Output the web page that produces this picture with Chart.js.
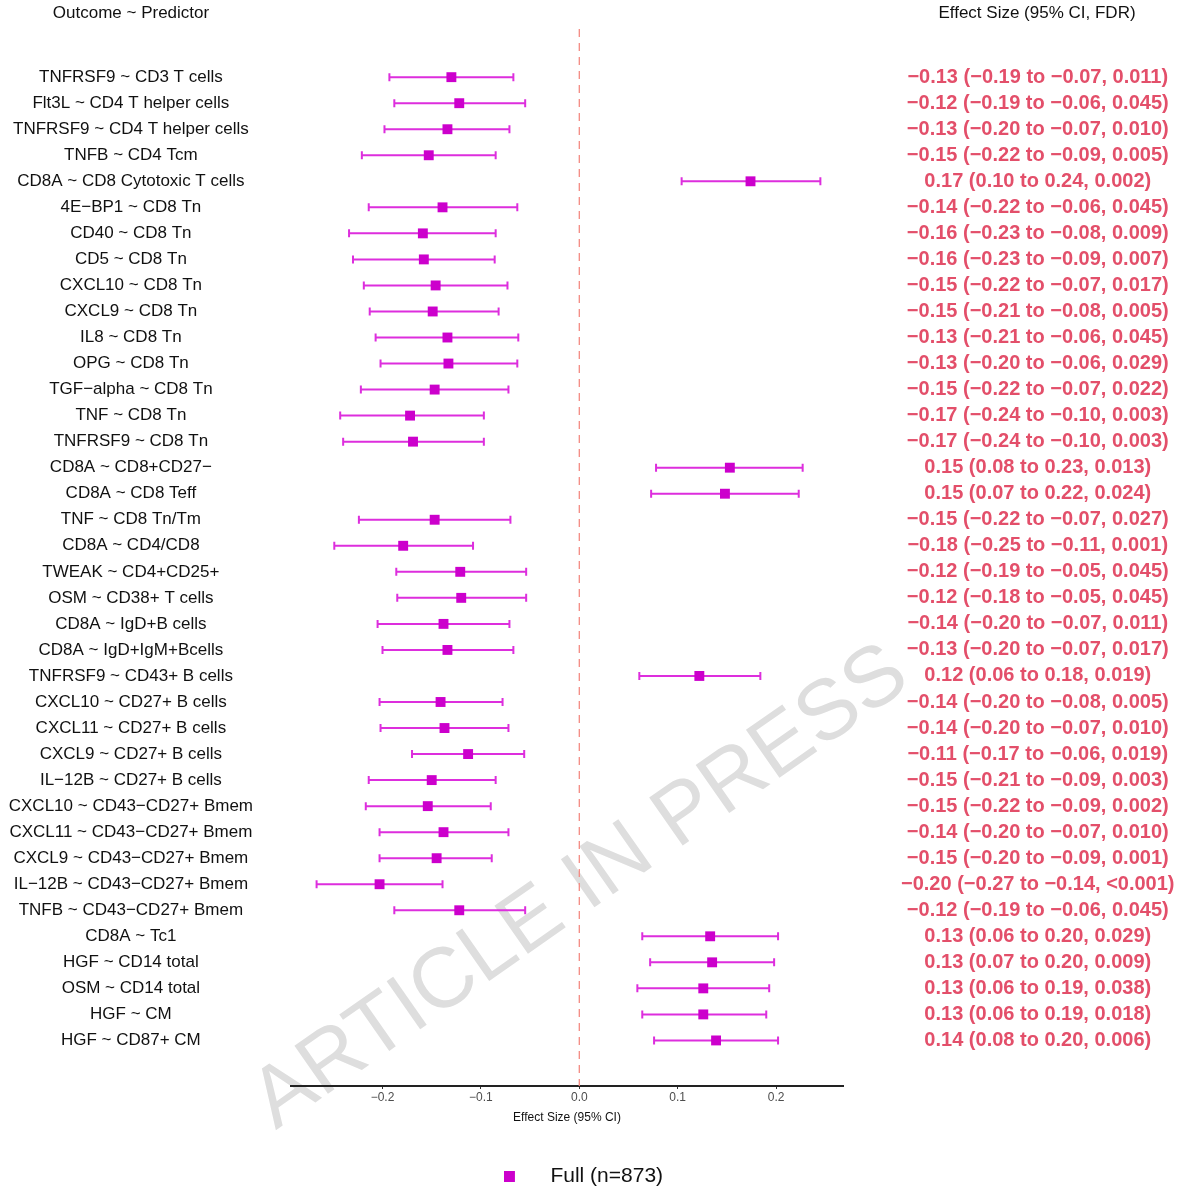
<!DOCTYPE html>
<html>
<head>
<meta charset="utf-8">
<script src="https://cdn.jsdelivr.net/npm/chart.js@4.4.1/dist/chart.umd.min.js"></script>
<style>
  body { margin: 0; background: #fff; }
  #wrap { width: 1179px; height: 1187px; }
</style>
</head>
<body>
<div id="wrap"><canvas id="forest"></canvas></div>
<script>
// rows, top to bottom
const rowLabels = [
  "TNFRSF9 ~ CD3 T cells", "Flt3L ~ CD4 T helper cells", "TNFRSF9 ~ CD4 T helper cells",
  "TNFB ~ CD4 Tcm", "CD8A ~ CD8 Cytotoxic T cells", "4E\u2212BP1 ~ CD8 Tn", "CD40 ~ CD8 Tn",
  "CD5 ~ CD8 Tn", "CXCL10 ~ CD8 Tn", "CXCL9 ~ CD8 Tn", "IL8 ~ CD8 Tn", "OPG ~ CD8 Tn",
  "TGF\u2212alpha ~ CD8 Tn", "TNF ~ CD8 Tn", "TNFRSF9 ~ CD8 Tn", "CD8A ~ CD8+CD27\u2212",
  "CD8A ~ CD8 Teff", "TNF ~ CD8 Tn/Tm", "CD8A ~ CD4/CD8", "TWEAK ~ CD4+CD25+",
  "OSM ~ CD38+ T cells", "CD8A ~ IgD+B cells", "CD8A ~ IgD+IgM+Bcells", "TNFRSF9 ~ CD43+ B cells",
  "CXCL10 ~ CD27+ B cells", "CXCL11 ~ CD27+ B cells", "CXCL9 ~ CD27+ B cells", "IL\u221212B ~ CD27+ B cells",
  "CXCL10 ~ CD43\u2212CD27+ Bmem", "CXCL11 ~ CD43\u2212CD27+ Bmem", "CXCL9 ~ CD43\u2212CD27+ Bmem",
  "IL\u221212B ~ CD43\u2212CD27+ Bmem", "TNFB ~ CD43\u2212CD27+ Bmem", "CD8A ~ Tc1", "HGF ~ CD14 total",
  "OSM ~ CD14 total", "HGF ~ CM", "HGF ~ CD87+ CM"
];

const estimate = [
  -0.130, -0.122, -0.134, -0.153, 0.174, -0.139, -0.159, -0.158, -0.146, -0.149,
  -0.134, -0.133, -0.147, -0.172, -0.169, 0.153, 0.148, -0.147, -0.179, -0.121,
  -0.120, -0.138, -0.134, 0.122, -0.141, -0.137, -0.113, -0.150, -0.154, -0.138,
  -0.145, -0.203, -0.122, 0.133, 0.135, 0.126, 0.126, 0.139
];
const lower = [
  -0.193, -0.188, -0.198, -0.221, 0.104, -0.214, -0.234, -0.230, -0.219, -0.213,
  -0.207, -0.202, -0.222, -0.243, -0.240, 0.078, 0.073, -0.224, -0.249, -0.186,
  -0.185, -0.205, -0.200, 0.061, -0.203, -0.202, -0.170, -0.214, -0.217, -0.203,
  -0.203, -0.267, -0.188, 0.064, 0.072, 0.059, 0.064, 0.076
];
const upper = [
  -0.067, -0.055, -0.071, -0.085, 0.245, -0.063, -0.085, -0.086, -0.073, -0.082,
  -0.062, -0.063, -0.072, -0.097, -0.097, 0.227, 0.223, -0.070, -0.108, -0.054,
  -0.054, -0.071, -0.067, 0.184, -0.078, -0.072, -0.056, -0.085, -0.090, -0.072,
  -0.089, -0.139, -0.055, 0.202, 0.198, 0.193, 0.190, 0.202
];

const effectText = [
  "\u22120.13 (\u22120.19 to \u22120.07, 0.011)", "\u22120.12 (\u22120.19 to \u22120.06, 0.045)",
  "\u22120.13 (\u22120.20 to \u22120.07, 0.010)", "\u22120.15 (\u22120.22 to \u22120.09, 0.005)",
  "0.17 (0.10 to 0.24, 0.002)", "\u22120.14 (\u22120.22 to \u22120.06, 0.045)",
  "\u22120.16 (\u22120.23 to \u22120.08, 0.009)", "\u22120.16 (\u22120.23 to \u22120.09, 0.007)",
  "\u22120.15 (\u22120.22 to \u22120.07, 0.017)", "\u22120.15 (\u22120.21 to \u22120.08, 0.005)",
  "\u22120.13 (\u22120.21 to \u22120.06, 0.045)", "\u22120.13 (\u22120.20 to \u22120.06, 0.029)",
  "\u22120.15 (\u22120.22 to \u22120.07, 0.022)", "\u22120.17 (\u22120.24 to \u22120.10, 0.003)",
  "\u22120.17 (\u22120.24 to \u22120.10, 0.003)", "0.15 (0.08 to 0.23, 0.013)",
  "0.15 (0.07 to 0.22, 0.024)", "\u22120.15 (\u22120.22 to \u22120.07, 0.027)",
  "\u22120.18 (\u22120.25 to \u22120.11, 0.001)", "\u22120.12 (\u22120.19 to \u22120.05, 0.045)",
  "\u22120.12 (\u22120.18 to \u22120.05, 0.045)", "\u22120.14 (\u22120.20 to \u22120.07, 0.011)",
  "\u22120.13 (\u22120.20 to \u22120.07, 0.017)", "0.12 (0.06 to 0.18, 0.019)",
  "\u22120.14 (\u22120.20 to \u22120.08, 0.005)", "\u22120.14 (\u22120.20 to \u22120.07, 0.010)",
  "\u22120.11 (\u22120.17 to \u22120.06, 0.019)", "\u22120.15 (\u22120.21 to \u22120.09, 0.003)",
  "\u22120.15 (\u22120.22 to \u22120.09, 0.002)", "\u22120.14 (\u22120.20 to \u22120.07, 0.010)",
  "\u22120.15 (\u22120.20 to \u22120.09, 0.001)", "\u22120.20 (\u22120.27 to \u22120.14, <0.001)",
  "\u22120.12 (\u22120.19 to \u22120.06, 0.045)", "0.13 (0.06 to 0.20, 0.029)",
  "0.13 (0.07 to 0.20, 0.009)", "0.13 (0.06 to 0.19, 0.038)",
  "0.13 (0.06 to 0.19, 0.018)", "0.14 (0.08 to 0.20, 0.006)"
];

const xTicks = [-0.2, -0.1, 0, 0.1, 0.2];
const seriesName = "Full (n=873)";

const FONT = "'Liberation Sans', Arial, Helvetica, sans-serif";
const MARK = "#cc00cc";
const BAR = "#dd2edd";
const PINK = "#e34f6a";

const rowTicks = (scale) => {
  scale.ticks = rowLabels.map((_, i) => ({ value: i }));
};
// tick padding is used for label placement only, not as extra top/bottom room
const noEndPadding = (scale, w) => {
  scale.width = w;
  scale.paddingTop = 0;
  scale.paddingBottom = 0;
};

// legend key: small square with space after it
const legendKey = document.createElement("canvas");
legendKey.width = 36;
legendKey.height = 11;
const kctx = legendKey.getContext("2d");
kctx.fillStyle = MARK;
kctx.fillRect(0, 0, 11, 11);

const forestLines = {
  id: "forestLines",
  beforeDraw(chart) {
    const { ctx } = chart;
    ctx.save();
    ctx.translate(581, 888);
    ctx.rotate(-35 * Math.PI / 180);
    ctx.font = "85px " + FONT;
    ctx.fillStyle = "#dedede";
    ctx.textAlign = "center";
    ctx.textBaseline = "middle";
    ctx.fillText("ARTICLE IN PRESS", 0, 0);
    ctx.restore();
  },
  beforeDatasetsDraw(chart) {
    const { ctx, chartArea, scales } = chart;
    const x = scales.x, y = scales.y;
    ctx.save();
    const x0 = x.getPixelForValue(0);
    ctx.strokeStyle = "#f48a82";
    ctx.lineWidth = 1.3;
    ctx.setLineDash([8, 6]);
    ctx.beginPath();
    ctx.moveTo(x0, chartArea.top);
    ctx.lineTo(x0, chartArea.bottom);
    ctx.stroke();
    ctx.setLineDash([]);

    ctx.strokeStyle = BAR;
    ctx.lineWidth = 2;
    rowLabels.forEach((_, i) => {
      const py = y.getPixelForValue(i);
      const a = x.getPixelForValue(lower[i]);
      const b = x.getPixelForValue(upper[i]);
      ctx.beginPath();
      ctx.moveTo(a, py); ctx.lineTo(b, py);
      ctx.moveTo(a, py - 4); ctx.lineTo(a, py + 4);
      ctx.moveTo(b, py - 4); ctx.lineTo(b, py + 4);
      ctx.stroke();
    });
    ctx.restore();
  },
  afterDraw(chart) {
    const { ctx } = chart;
    ctx.save();
    ctx.font = "17px " + FONT;
    ctx.fillStyle = "#111";
    ctx.textAlign = "center";
    ctx.textBaseline = "middle";
    ctx.fillText("Outcome ~ Predictor", 131, 13);
    ctx.fillText("Effect Size (95% CI, FDR)", 1037, 13);
    ctx.restore();
  }
};

new Chart(document.getElementById("forest"), {
  type: "scatter",
  data: {
    datasets: [{
      label: seriesName,
      data: estimate.map((v, i) => ({ x: v, y: i })),
      pointStyle: "rect",
      pointRadius: 7,
      pointHoverRadius: 7,
      backgroundColor: MARK,
      borderColor: MARK,
      borderWidth: 0
    }]
  },
  options: {
    responsive: true,
    maintainAspectRatio: false,
    animation: false,
    layout: { padding: { top: 29, left: -12, right: 0, bottom: -10 } },
    plugins: {
      tooltip: { enabled: false },
      legend: {
        position: "bottom",
        labels: {
          usePointStyle: true,
          pointStyle: legendKey,
          pointStyleWidth: 36,
          boxHeight: 11,
          padding: 0,
          color: "#111",
          font: { family: FONT, size: 21, lineHeight: 1 }
        }
      }
    },
    scales: {
      x: {
        type: "linear",
        min: -0.293,
        max: 0.268,
        afterBuildTicks: (s) => { s.ticks = xTicks.map(v => ({ value: v })); },
        afterFit: (s) => { s.height = 80; },
        border: { display: true, color: "#222", width: 2 },
        grid: { display: true, drawOnChartArea: false, drawTicks: true, tickLength: 3, color: "#333" },
        ticks: {
          padding: 1,
          color: "#4d4d4d",
          font: { family: FONT, size: 12 },
          callback: (v) => v.toFixed(1).replace("-", "\u2212")
        },
        title: {
          display: true,
          text: "Effect Size (95% CI)",
          color: "#111",
          font: { family: FONT, size: 12 },
          padding: { top: 4, bottom: 41 }
        }
      },
      y: {
        type: "linear",
        position: "left",
        reverse: true,
        min: -1.85,
        max: 38.75,
        afterBuildTicks: rowTicks,
        afterFit: (s) => noEndPadding(s, 291 + 12),
        border: { display: false },
        grid: { display: false, drawTicks: false },
        ticks: {
          autoSkip: false,
          crossAlign: "center",
          padding: 38,
          color: "#111",
          font: { family: FONT, size: 17 },
          callback: (v) => rowLabels[v]
        }
      },
      y2: {
        type: "linear",
        position: "right",
        reverse: true,
        min: -1.85,
        max: 38.75,
        afterBuildTicks: rowTicks,
        afterFit: (s) => noEndPadding(s, 1179 - 843),
        border: { display: false },
        grid: { display: false, drawTicks: false },
        ticks: {
          autoSkip: false,
          crossAlign: "center",
          padding: 58,
          color: PINK,
          font: { family: FONT, size: 20, weight: "bold" },
          callback: (v) => effectText[v]
        }
      }
    }
  },
  plugins: [forestLines]
});
</script>
</body>
</html>
